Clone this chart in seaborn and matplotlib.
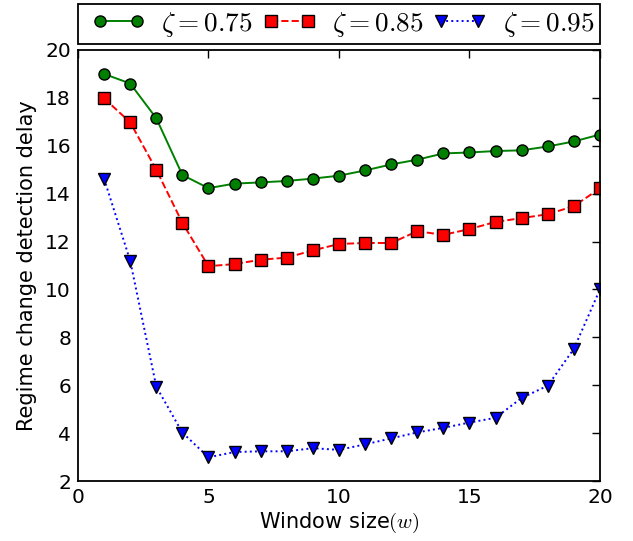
import matplotlib
matplotlib.use("Agg")
import matplotlib.pyplot as plt
from matplotlib.lines import Line2D
from matplotlib.legend_handler import HandlerLine2D
import seaborn as sns
import pandas as pd

window = list(range(1, 21))
delay_075 = [19.0, 18.6, 17.15, 14.78, 14.23, 14.42, 14.47, 14.53, 14.63, 14.75,
             14.97, 15.22, 15.42, 15.68, 15.72, 15.78, 15.81, 15.97, 16.18, 16.47]
delay_085 = [17.98, 16.98, 15.0, 12.78, 10.97, 11.06, 11.24, 11.33, 11.63, 11.9,
             11.94, 11.94, 12.43, 12.28, 12.52, 12.82, 12.98, 13.14, 13.48, 14.22]
delay_095 = [14.62, 11.2, 5.94, 4.02, 2.99, 3.21, 3.24, 3.24, 3.37, 3.3,
             3.53, 3.78, 4.03, 4.22, 4.44, 4.64, 5.47, 5.98, 7.52, 10.0]
labels = [r"$\zeta=0.75$", r"$\zeta=0.85$", r"$\zeta=0.95$"]

sns.set_style("white")
plt.rcParams["font.family"] = ["DejaVu Sans"]
plt.rcParams["mathtext.fontset"] = "cm"
plt.rcParams["text.color"] = "black"
plt.rcParams["axes.labelcolor"] = "black"
plt.rcParams["xtick.color"] = "black"
plt.rcParams["ytick.color"] = "black"

fig = plt.figure(figsize=(6.33, 5.41), dpi=100)
ax = fig.add_axes([0.1232, 0.1109, 0.8246, 0.7967])

styles = [
    dict(color="green", marker="o", linestyle="-"),
    dict(color="red", marker="s", linestyle="--", dashes=(7, 4)),
    dict(color="blue", marker="v", linestyle=":"),
]
for vals, lab, st in zip([delay_075, delay_085, delay_095], labels, styles):
    df = pd.DataFrame({"w": window, "d": vals})
    sns.lineplot(data=df, x="w", y="d", ax=ax, label=lab, markersize=8,
                 markeredgecolor="black", markeredgewidth=1.0, linewidth=1.4, **st)

ax.set_xlim(0, 20)
ax.set_ylim(2, 20)
ax.set_xticks([0, 5, 10, 15, 20])
ax.set_yticks(range(2, 21, 2))
ax.tick_params(direction="in", top=True, right=True, length=6, width=1,
               labelsize=14.5, pad=5, colors="black")
for s in ax.spines.values():
    s.set_linewidth(1.3)
    s.set_color("black")
ax.set_xlabel(r"Window size$(w)$", fontsize=15, labelpad=3)
ax.set_ylabel("Regime change detection delay", fontsize=15, labelpad=6)

leg = ax.legend(loc="lower left", bbox_to_anchor=(0, 1.0139, 1, 0.1), mode="expand",
                ncol=3, borderaxespad=0, numpoints=2, fontsize=19.6,
                borderpad=0.2, handlelength=2.56, handletextpad=0.3,
                columnspacing=0.2, markerscale=1.0,
                handler_map={Line2D: HandlerLine2D(marker_pad=0.6, numpoints=2)},
                fancybox=False, framealpha=1, edgecolor="black")
leg.get_frame().set_linewidth(1.3)

fig.savefig("out.png", dpi=100)
